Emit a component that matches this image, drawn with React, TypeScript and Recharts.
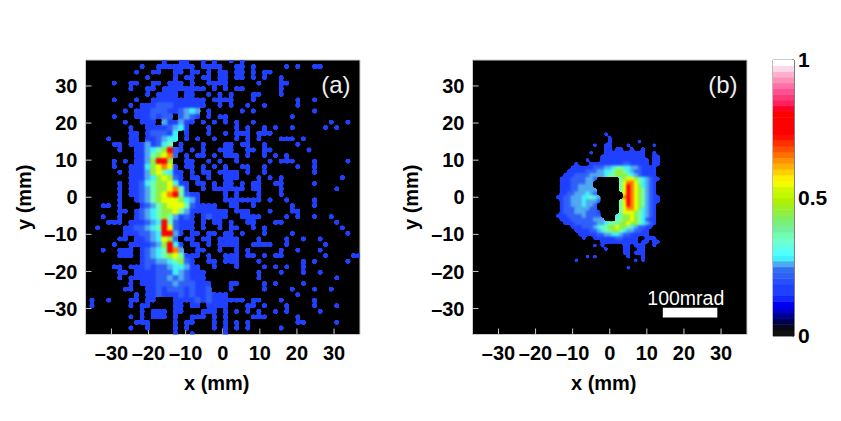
import React from "react";
import { ScatterChart, Scatter, XAxis, YAxis, ReferenceArea, ReferenceDot } from "recharts";

const axisTicks = [-30, -20, -10, 0, 10, 20, 30];
const colorbarTicks = [0, 0.5, 1];
const heatColors = ["#000000", "#2040ff", "#3060f8", "#50a8f0", "#40f0ff", "#70ffb0", "#90f040", "#e8ff00", "#ff8000", "#ff0000"];
const colorbarLevels = [
  "#101010", "#080818", "#000050", "#000090", "#0000d0", "#0000f8", "#1028ff", "#2040ff",
  "#2040ff", "#2850ff", "#3060f8", "#3070f0", "#50a8f0", "#40f0ff", "#50ffff", "#60ffe0",
  "#70ffd0", "#70ffb0", "#70f0a0", "#78f080", "#80f060", "#90f040", "#a0f020", "#b0f000",
  "#c0f800", "#d0f800", "#f0ff00", "#ffee00", "#ffd000", "#ffb000", "#ff9000", "#ff7000",
  "#ff5000", "#ff3000", "#ff1000", "#ff0000", "#ff0000", "#ff0000", "#ff0000", "#ff0020",
  "#ff2060", "#ff3878", "#ff5090", "#ff70a8", "#ff90b8", "#ffb0d0", "#ffd8e8", "#ffffff",
];

const panelALeft = [
  "0000000000000010011001010",
  "0000000000100111111101111",
  "0000000001001100110110101",
  "0000000000010000101101101",
  "0000010011001101110100111",
  "0000000010011011111111010",
  "0000000000010111101100101",
  "0000010001001111111111011",
  "0000000010111222111111001",
  "0000000101112221123430100",
  "0000010001112122023210101",
  "0000000100111031131101010",
  "0000000010011112341000100",
  "0000000011012221401000100",
  "0000100011011234401010010",
  "0000011011131245010001000",
  "0000001001134569210101001",
  "0000000001135678201011010",
  "0000010101136996001100101",
  "0000010011146787101101010",
  "0000001011136754110101101",
  "0000000011134676210110100",
  "0000001011245667411011010",
  "0000001011235667851001011",
  "0000001011235678952110000",
  "0000001001235677764310000",
  "0001101000123567775211110",
  "0000001101234566753111111",
  "0001001001234565312101211",
  "0000111011123495211101011",
  "0010000112234597211101001",
  "0000000111223499310110110",
  "0000001101123476201101101",
  "0000010011112369410110101",
  "0001001110123459830011001",
  "0000001110123456751110100",
  "0000000000122334562100110",
  "0000011011121223443110010",
  "0000001101111222432111000",
  "0000001011111223232111000",
  "0000000010111222322211100",
  "0000000110011212221211200",
  "0000000001011211121211211",
  "0100100011011000111121211",
  "0100000010110000110110111",
  "0000000000101110110001110",
  "0000000010101110100111010",
  "0000000001110000101100010",
  "0000000010010000101000010",
  "0000000000000000100100000",
];

const panelARight = [
  "0101000000000000000000000",
  "0011010000010100110000000",
  "1011010110000000000000000",
  "1011010100100000000000000",
  "1000001000110000000000000",
  "1011000000100000000000000",
  "0100011000100000000000000",
  "1100010000000100100000000",
  "0100100100000100000000000",
  "0001010000000000100000000",
  "1000000000001000000000000",
  "1010010000000000000100100",
  "0010100101001000001010000",
  "1011101110000000000000000",
  "0010101000111010000000000",
  "1101100100000100000000000",
  "1100110110000001000000000",
  "1110100101010000000000000",
  "0010000010111000100000100",
  "1001100100000100100000000",
  "1110100100000000100000000",
  "1110001010100000000001000",
  "1101011001100000100000000",
  "1111011000100000000010000",
  "1010001000100000000000000",
  "1111111010010000100000000",
  "0110010000001000100000000",
  "1011100010001100000000000",
  "1001111000010100100100000",
  "0100110001100000000010000",
  "0110010100000000000001000",
  "1101000100001000000000100",
  "1110001000010010010000000",
  "1110011110010000001000000",
  "0010100000100100010000000",
  "1110110101100000001000011",
  "1110001000000010100000100",
  "0010000101010010000000000",
  "0000001000100010010000000",
  "0000001000000000000010000",
  "0110000101000010000000000",
  "0100000100001000100100000",
  "1000000000000100000000000",
  "1111011000100000100000000",
  "1000110100010000100010000",
  "1010101001010000010000000",
  "1000011100000100000000000",
  "1010100000000110000010000",
  "1010100000100000000000000",
  "1000000000000000000000000",
];

const panelB = [
  "00000000000001000000000000000",
  "00000000000000100000000000000",
  "00000000000000100000001000000",
  "00000000001001100001000000100",
  "00000000000001101100100100000",
  "00000000010001111111111100100",
  "00000000000011111111111100110",
  "00000000100011111111111110110",
  "00000100011111111122111110110",
  "00001111112223345544332111100",
  "00011111222334456654322111100",
  "00111222233334556665432111100",
  "01112222332000000567765432110",
  "01112222330000000578875432100",
  "01112233330000000579876432100",
  "01112233333000000579876532100",
  "01122333432000000079876532100",
  "11223334454300000089876532110",
  "01223334333200000579876532110",
  "01223334332000000579876532100",
  "01222333322000000578876432100",
  "01222333222100000577765432100",
  "11122223222200004566765432100",
  "01112222223330005566765421100",
  "00111222222334555667665432100",
  "00001112223455667665432211000",
  "00000111122345566543322110000",
  "00000011111223344322111110000",
  "00000001001111112211110011100",
  "00000000000011111111110110110",
  "00000000001010000011011100100",
  "00000000000001000011001100000",
  "00000000000000000011011100000",
  "00000000101000000001000100000",
  "00000100000000000000010100000",
  "00000000000000000000000000000",
  "00000000000000000001000000000",
];

const PX_PER_MM = 3.7;
const FONT = "'Liberation Sans', Arial, sans-serif";

const toCells = (rows: string[], x0: number, y0: number, step: number) =>
  rows
    .flatMap((row, j) => [...row].map((c, i) => ({ x: x0 + step * i, y: y0 - step * j, v: Number(c) })))
    .filter((d) => d.v > 0)
    .sort((a, b) => a.v - b.v);

const cellsA = toCells(panelALeft.map((l, j) => l.padEnd(25, "0") + panelARight[j]), -36.75, 36.75, 1.5);
const cellsB = toCells(panelB, -14, 17, 1);
const colorbarData = colorbarLevels.map((fill, i) => ({ x: 0.5, y: (i + 0.5) / colorbarLevels.length, fill }));

const fmt = (v: number) => (v < 0 ? "\u2013" + Math.abs(v) : String(v));
const tickStyle = { fontFamily: FONT, fontSize: 20, fontWeight: 700, fill: "#000" };

function cellShape(size: number, lowShrink: number) {
  return (p: any) => {
    const full = size * PX_PER_MM + 0.4;
    const s = p.payload.v === 1 ? full - lowShrink : full;
    return <rect x={p.cx - s / 2} y={p.cy - s / 2} width={s} height={s} rx={s / 3} ry={s / 3} fill={heatColors[p.payload.v]} />;
  };
}

function Panel({ left, cells, size, lowShrink, tag, filterClass, children }: any) {
  return (
    <div className={filterClass} style={{ position: "absolute", left, top: 0 }}>
      <ScatterChart width={420} height={421} margin={{ left: 30, right: 59, top: 59, bottom: 36.5 }}>
        <XAxis
          xAxisId="b" type="number" dataKey="x" domain={[-37, 37]} ticks={axisTicks} allowDataOverflow
          tickFormatter={fmt} tickSize={-6} tickMargin={17} height={50} interval={0}
          stroke="#cccccc" tick={tickStyle}
          label={{ value: "x (mm)", position: "insideBottom", offset: -5, dx: -6, style: tickStyle }}
        />
        <XAxis xAxisId="t" type="number" orientation="top" domain={[-37, 37]} ticks={axisTicks} allowDataOverflow tick={false} tickSize={-6} height={1} stroke="#cccccc" />
        <YAxis
          yAxisId="l" type="number" dataKey="y" domain={[-37, 37]} ticks={axisTicks} allowDataOverflow
          tickFormatter={fmt} tickSize={-6} tickMargin={14} width={55.5} interval={0}
          stroke="#cccccc" tick={tickStyle}
          label={{ value: "y (mm)", angle: -90, position: "insideLeft", offset: -1, dx: -5, style: { ...tickStyle, textAnchor: "middle" } }}
        />
        <YAxis yAxisId="r" type="number" orientation="right" domain={[-37, 37]} ticks={axisTicks} allowDataOverflow tick={false} tickSize={-6} width={1} stroke="#cccccc" />
        <ReferenceArea xAxisId="b" yAxisId="l" x1={-37} x2={37} y1={-37} y2={37} fill="#000" fillOpacity={1} stroke="none" />
        <Scatter xAxisId="b" yAxisId="l" data={cells} isAnimationActive={false} shape={cellShape(size, lowShrink)} />
        <ReferenceDot
          xAxisId="b" yAxisId="l" x={tag.x} y={30.5} r={0} fill="none" stroke="none"
          label={{ value: tag.text, position: "center", style: { fontFamily: FONT, fontSize: 24, fill: "#eee" } }}
        />
        {children}
      </ScatterChart>
    </div>
  );
}

export default function App() {
  return (
    <div style={{ position: "absolute", left: 0, top: 0, width: 841, height: 421, background: "#fff", overflow: "hidden" }}>
      <style>{`.heatA .recharts-scatter{filter:url(#gooA)} .heatB .recharts-scatter{filter:url(#gooB)}`}</style>
      <svg width={0} height={0} style={{ position: "absolute" }}>
        <defs>
          <filter id="gooA" x="0" y="0" width="100%" height="100%" colorInterpolationFilters="sRGB">
            <feGaussianBlur stdDeviation={1.25} />
            <feColorMatrix type="matrix" values="1 0 0 0 0  0 1 0 0 0  0 0 1 0 0  0 0 0 10 -4.6" />
          </filter>
          <filter id="gooB" x="0" y="0" width="100%" height="100%" colorInterpolationFilters="sRGB">
            <feGaussianBlur stdDeviation={0.8} />
            <feColorMatrix type="matrix" values="1 0 0 0 0  0 1 0 0 0  0 0 1 0 0  0 0 0 9 -4" />
          </filter>
        </defs>
      </svg>
      <Panel left={0} cells={cellsA} size={1.5} lowShrink={0.6} filterClass="heatA" tag={{ x: 30.5, text: "(a)" }} />
      <Panel left={386.5} cells={cellsB} size={1} lowShrink={0} filterClass="heatB" tag={{ x: 30.5, text: "(b)" }}>
        <ReferenceArea xAxisId="b" yAxisId="l" x1={14.3} x2={29} y1={-32.4} y2={-29.8} fill="#fff" fillOpacity={1} stroke="none" />
        <ReferenceDot
          xAxisId="b" yAxisId="l" x={20.5} y={-27.3} r={0} fill="none" stroke="none"
          label={{ value: "100mrad", position: "center", style: { fontFamily: FONT, fontSize: 19.5, fill: "#fff" } }}
        />
      </Panel>
      <div style={{ position: "absolute", left: 740, top: 0 }}>
        <ScatterChart width={101} height={421} margin={{ left: 33, right: 0, top: 60, bottom: 85 }}>
          <XAxis type="number" dataKey="x" domain={[0, 1]} hide />
          <YAxis
            type="number" dataKey="y" orientation="right" domain={[0, 1]} ticks={colorbarTicks} interval={0}
            width={47} tickSize={-2} tickMargin={6} stroke="#444"
            tick={{ fontFamily: FONT, fontSize: 21, fontWeight: 700, fill: "#000" }}
          />
          <Scatter
            data={colorbarData} isAnimationActive={false}
            shape={(p: any) => <rect x={p.cx - 10.5} y={p.cy - 3.1} width={21} height={6.2} fill={p.payload.fill} />}
          />
          <ReferenceArea x1={0} x2={1} y1={0} y2={1} fill="none" stroke="#555" strokeWidth={0.8} />
        </ScatterChart>
      </div>
    </div>
  );
}
